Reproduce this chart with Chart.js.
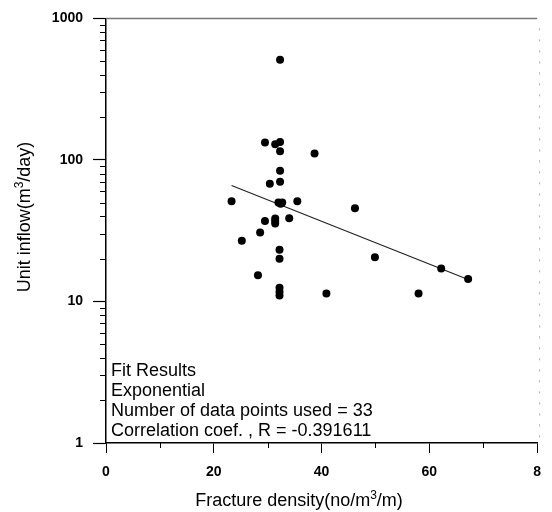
<!DOCTYPE html>
<html>
<head>
<meta charset="utf-8">
<script src="https://cdn.jsdelivr.net/npm/chart.js@4/dist/chart.umd.min.js"></script>
<style>
  body { margin: 0; background: #fff; }
  canvas { display: block; }
</style>
</head>
<body>
<canvas id="fitChart" width="552" height="512"></canvas>
<script>
// ================= DATA =================
const fractureDensity = [32.3, 29.5, 31.4, 32.3, 32.3, 38.7, 32.3, 30.4, 32.3, 23.3, 32.0,
    32.7, 35.5, 29.5, 31.4, 31.4, 34.0, 28.6, 25.2, 32.2, 32.2, 28.2, 32.2, 32.2, 40.9,
    46.2, 49.9, 62.2, 67.2, 58.0, 32.2, 32.4, 31.4];
const unitInflow = [510, 133, 129, 134, 115, 111, 84, 68, 70, 51, 50,
    50, 51, 37, 38.5, 35.5, 38.7, 30.7, 26.9, 23.2, 20.0, 15.3, 12.5, 11.0, 11.4,
    45.5, 20.5, 17.1, 14.4, 11.4, 11.7, 49, 37];

// exponential fit, end points
const fitDensity = [23.3, 67.2];
const fitInflow = [66, 14.3];

const xTickValues = [0, 20, 40, 60, 80];
const xTickLabels = ["0", "20", "40", "60", "8"];
const xMinorTicks = [10, 30, 50, 70];
const yTickValues = [1, 10, 100, 1000];
const yTickLabels = ["1", "10", "100", "1000"];
const yMinorTicks = [2, 3, 4, 5, 6, 7, 8, 9, 20, 30, 40, 50, 60, 70, 80, 90, 200, 300, 400, 500, 600, 700, 800, 900];

const fitText = [
    "Fit Results",
    "Exponential",
    "Number of data points used = 33",
    "Correlation coef. , R = -0.391611"
];

const FONT = "'Liberation Sans', Arial, sans-serif";

// ================= HELPERS =================
function drawSupText(ctx, parts, x, y, align) {
    // parts: [text, isSup]
    let total = 0;
    parts.forEach(p => {
        ctx.font = p[1] ? "12px " + FONT : "18px " + FONT;
        total += ctx.measureText(p[0]).width;
    });
    let cx = align === "center" ? x - total / 2 : x;
    parts.forEach(p => {
        ctx.font = p[1] ? "12px " + FONT : "18px " + FONT;
        ctx.fillText(p[0], cx, p[1] ? y - 7 : y);
        cx += ctx.measureText(p[0]).width;
    });
}

const decorPlugin = {
    id: "decor",
    afterDraw(chart) {
        const ctx = chart.ctx;
        const xs = chart.scales.x;
        const ys = chart.scales.y;
        const area = chart.chartArea;
        ctx.save();

        // minor ticks
        ctx.strokeStyle = "#000";
        ctx.lineWidth = 1;
        yMinorTicks.forEach(v => {
            const py = Math.round(ys.getPixelForValue(v)) + 0.5;
            ctx.beginPath();
            ctx.moveTo(area.left - 6, py);
            ctx.lineTo(area.left, py);
            ctx.stroke();
        });
        xMinorTicks.forEach(v => {
            const px = Math.round(xs.getPixelForValue(v)) + 0.5;
            ctx.beginPath();
            ctx.moveTo(px, area.bottom);
            ctx.lineTo(px, area.bottom + 5);
            ctx.stroke();
        });

        // top border (grey) and faint right border
        ctx.strokeStyle = "#777";
        ctx.lineWidth = 1.5;
        ctx.beginPath();
        ctx.moveTo(area.left, area.top);
        ctx.lineTo(area.right, area.top);
        ctx.stroke();
        ctx.strokeStyle = "#aaa";
        ctx.lineWidth = 1;
        ctx.setLineDash([2, 9]);
        ctx.beginPath();
        ctx.moveTo(area.right + 2.5, area.top + 10);
        ctx.lineTo(area.right + 2.5, area.bottom - 5);
        ctx.stroke();
        ctx.setLineDash([]);

        // axis titles
        ctx.fillStyle = "#000";
        ctx.textBaseline = "alphabetic";
        ctx.textAlign = "left";
        drawSupText(ctx, [["Fracture density(no/m", false], ["3", true], ["/m)", false]], 299, 506, "center");

        ctx.save();
        ctx.translate(30, 217);
        ctx.rotate(-Math.PI / 2);
        drawSupText(ctx, [["Unit inflow(m", false], ["3", true], ["/day)", false]], 0, 0, "center");
        ctx.restore();

        // fit results box text
        ctx.font = "18px " + FONT;
        fitText.forEach((t, i) => {
            ctx.fillText(t, area.left + 5, 376 + i * 20);
        });

        ctx.restore();
    }
};

// ================= CHART =================
const ctx = document.getElementById("fitChart").getContext("2d");

new Chart(ctx, {
    type: "scatter",
    data: {
        datasets: [
            {
                label: "Fit",
                type: "line",
                data: fitDensity.map((x, i) => ({ x: x, y: fitInflow[i] })),
                borderColor: "#222",
                borderWidth: 1.2,
                pointRadius: 0,
                fill: false,
                order: 2
            },
            {
                label: "Unit inflow",
                data: fractureDensity.map((x, i) => ({ x: x, y: unitInflow[i] })),
                backgroundColor: "#000",
                borderColor: "#000",
                pointRadius: 4,
                pointBorderWidth: 0,
                order: 1
            }
        ]
    },
    options: {
        responsive: false,
        animation: false,
        layout: { padding: { left: 0, right: 14, top: 16, bottom: 0 } },
        plugins: {
            legend: { display: false },
            tooltip: { enabled: false }
        },
        scales: {
            x: {
                type: "linear",
                min: 0,
                max: 80,
                afterFit: s => { s.height = 69; },
                afterBuildTicks: s => { s.ticks = xTickValues.map(v => ({ value: v })); },
                ticks: {
                    color: "#000",
                    font: { family: FONT, size: 14, weight: "bold" },
                    padding: 11,
                    maxRotation: 0,
                    callback: (v) => xTickLabels[xTickValues.indexOf(v)]
                },
                grid: {
                    drawOnChartArea: false,
                    tickLength: 10,
                    tickColor: "#000",
                    tickWidth: 1
                },
                border: { display: true, color: "#000", width: 1.5 }
            },
            y: {
                type: "logarithmic",
                min: 1,
                max: 1000,
                afterFit: s => { s.width = 106; },
                afterBuildTicks: s => { s.ticks = yTickValues.map(v => ({ value: v })); },
                ticks: {
                    color: "#000",
                    font: { family: FONT, size: 14, weight: "bold" },
                    padding: 10,
                    callback: (v) => yTickLabels[yTickValues.indexOf(v)]
                },
                grid: {
                    drawOnChartArea: false,
                    tickLength: 13,
                    tickColor: "#000",
                    tickWidth: 1.2
                },
                border: { display: true, color: "#000", width: 1.5 }
            }
        }
    },
    plugins: [decorPlugin]
});
</script>
</body>
</html>
